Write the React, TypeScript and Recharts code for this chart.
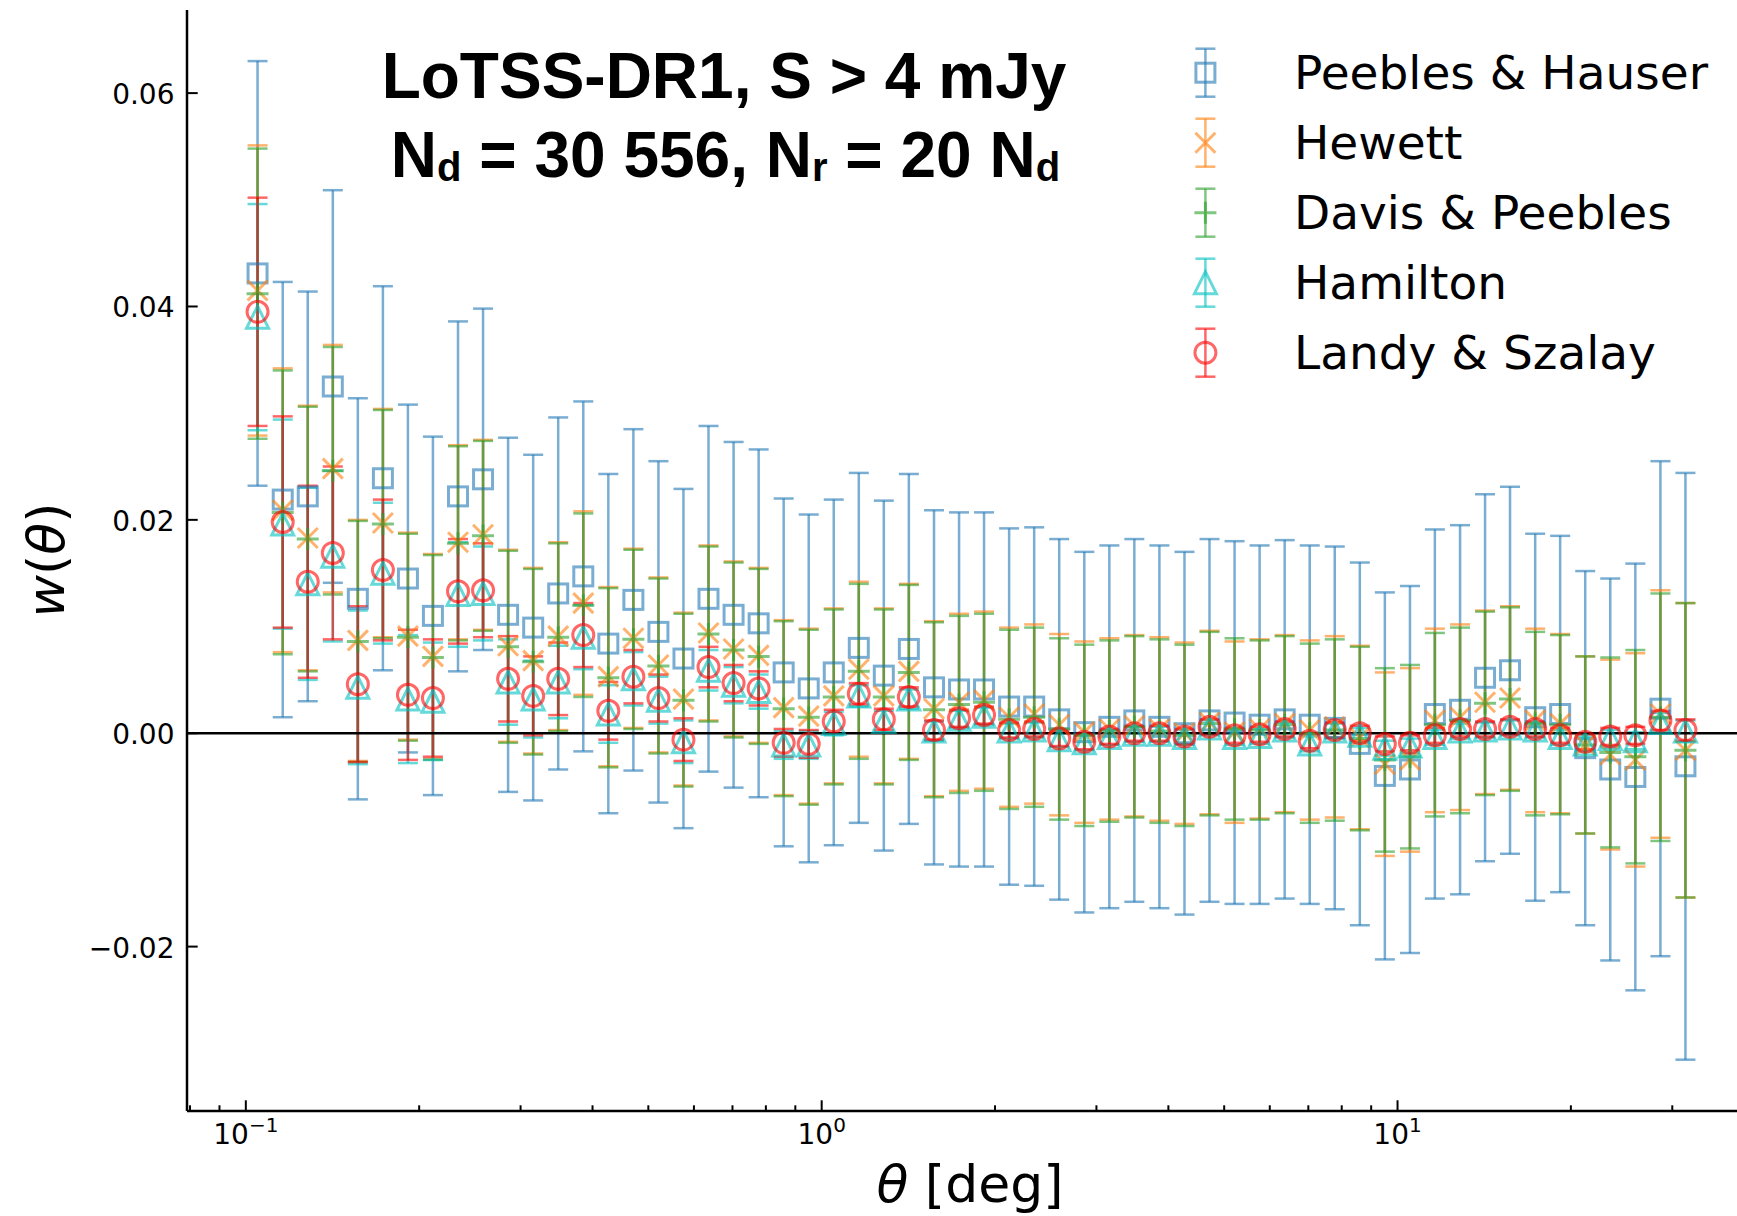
import React from 'react';
import { ComposedChart, Scatter, XAxis, YAxis, ErrorBar, ReferenceLine, Legend } from 'recharts';

// angular bin centres, deg
const theta = [
  0.1048, 0.1159, 0.1281, 0.1416, 0.1565, 0.1730, 0.1912, 0.2113, 0.2336, 0.2582,
  0.2854, 0.3155, 0.3487, 0.3855, 0.4261, 0.4710, 0.5206, 0.5754, 0.6360, 0.7031,
  0.7772, 0.8590, 0.9495, 1.0495, 1.160, 1.282, 1.417, 1.567, 1.732, 1.914,
  2.116, 2.339, 2.585, 2.858, 3.159, 3.491, 3.859, 4.266, 4.715, 5.212,
  5.761, 6.368, 7.039, 7.780, 8.600, 9.506, 10.51, 11.61, 12.84, 14.19,
  15.68, 17.34, 19.16, 21.18, 23.41, 25.88, 28.61, 31.62,
];

// Peebles & Hauser
const phValue = [
  0.0431, 0.0219, 0.0222, 0.0325, 0.0126, 0.0239, 0.0145, 0.0110, 0.0222, 0.0238,
  0.0111, 0.0099, 0.0131, 0.0147, 0.0084, 0.0125, 0.0095, 0.0070, 0.0126, 0.0111,
  0.0103, 0.0057, 0.0042, 0.0057, 0.0080, 0.0054, 0.0079, 0.0043, 0.0041, 0.0041,
  0.0025, 0.0025, 0.0013, 0.0001, 0.0006, 0.0012, 0.0006, 0.0000, 0.0012, 0.0010,
  0.0008, 0.0013, 0.0008, 0.0005, -0.0010, -0.0040, -0.0034, 0.0018, 0.0022, 0.0052,
  0.0059, 0.0015, 0.0018, -0.0014, -0.0034, -0.0041, 0.0023, -0.0031,
];
const phError = [
  0.0199, 0.0204, 0.0192, 0.0184, 0.0188, 0.0180, 0.0163, 0.0168, 0.0164, 0.0160,
  0.0166, 0.0162, 0.0165, 0.0164, 0.0159, 0.0160, 0.0160, 0.0159, 0.0162, 0.0162,
  0.0163, 0.0163, 0.0163, 0.0162, 0.0164, 0.0164, 0.0164, 0.0166, 0.0166, 0.0166,
  0.0167, 0.0168, 0.0169, 0.0169, 0.0170, 0.0170, 0.0170, 0.0170, 0.0170, 0.0170,
  0.0168, 0.0168, 0.0168, 0.0170, 0.0170, 0.0172, 0.0172, 0.0173, 0.0173, 0.0172,
  0.0172, 0.0172, 0.0167, 0.0166, 0.0179, 0.0200, 0.0232, 0.0275,
];

// Hewett
const hwValue = [
  0.0415, 0.0209, 0.0183, 0.0248, 0.0087, 0.0197, 0.0091, 0.0072, 0.0179, 0.0186,
  0.0082, 0.0068, 0.0091, 0.0122, 0.0053, 0.0089, 0.0064, 0.0032, 0.0094, 0.0079,
  0.0073, 0.0024, 0.0016, 0.0035, 0.0060, 0.0035, 0.0058, 0.0023, 0.0029, 0.0031,
  0.0015, 0.0018, 0.0008, 0.0001, 0.0004, 0.0007, 0.0004, 0.0000, 0.0010, 0.0001,
  0.0004, 0.0009, 0.0003, 0.0006, -0.0004, -0.0029, -0.0025, 0.0012, 0.0015, 0.0029,
  0.0033, 0.0012, 0.0009, -0.0011, -0.0020, -0.0025, 0.0018, -0.0016,
];
const hwError = [
  0.0136, 0.0133, 0.0124, 0.0116, 0.0113, 0.0107, 0.0097, 0.0096, 0.0091, 0.0089,
  0.0090, 0.0087, 0.0088, 0.0086, 0.0084, 0.0084, 0.0082, 0.0081, 0.0082, 0.0082,
  0.0082, 0.0082, 0.0082, 0.0082, 0.0082, 0.0082, 0.0082, 0.0082, 0.0083, 0.0083,
  0.0084, 0.0084, 0.0085, 0.0085, 0.0085, 0.0085, 0.0086, 0.0085, 0.0086, 0.0085,
  0.0084, 0.0083, 0.0084, 0.0085, 0.0086, 0.0086, 0.0086, 0.0086, 0.0087, 0.0086,
  0.0086, 0.0086, 0.0084, 0.0083, 0.0089, 0.0100, 0.0116, 0.0138,
];

// Davis & Peebles
const dpValue = [
  0.0412, 0.0207, 0.0182, 0.0246, 0.0086, 0.0196, 0.0090, 0.0071, 0.0178, 0.0185,
  0.0081, 0.0067, 0.0090, 0.0120, 0.0052, 0.0088, 0.0063, 0.0031, 0.0093, 0.0078,
  0.0072, 0.0023, 0.0015, 0.0034, 0.0058, 0.0034, 0.0057, 0.0022, 0.0027, 0.0029,
  0.0013, 0.0015, 0.0004, -0.0002, 0.0002, 0.0006, 0.0002, -0.0002, 0.0009, 0.0004,
  0.0003, 0.0008, 0.0000, 0.0003, -0.0005, -0.0025, -0.0022, 0.0008, 0.0012, 0.0028,
  0.0032, 0.0009, 0.0008, -0.0011, -0.0018, -0.0022, 0.0015, -0.0016,
];
const dpError = [
  0.0136, 0.0133, 0.0124, 0.0116, 0.0113, 0.0107, 0.0097, 0.0096, 0.0091, 0.0089,
  0.0090, 0.0087, 0.0088, 0.0086, 0.0084, 0.0084, 0.0082, 0.0081, 0.0082, 0.0082,
  0.0082, 0.0082, 0.0082, 0.0082, 0.0082, 0.0082, 0.0082, 0.0082, 0.0083, 0.0083,
  0.0084, 0.0084, 0.0085, 0.0085, 0.0085, 0.0085, 0.0086, 0.0085, 0.0086, 0.0085,
  0.0084, 0.0083, 0.0084, 0.0085, 0.0086, 0.0086, 0.0086, 0.0086, 0.0087, 0.0086,
  0.0086, 0.0086, 0.0084, 0.0083, 0.0089, 0.0100, 0.0116, 0.0138,
];

// Hamilton
const hmValue = [
  0.0390, 0.0196, 0.0140, 0.0166, 0.0043, 0.0150, 0.0032, 0.0030, 0.0130, 0.0131,
  0.0048, 0.0032, 0.0048, 0.0090, 0.0018, 0.0051, 0.0031, -0.0008, 0.0059, 0.0045,
  0.0039, -0.0011, -0.0011, 0.0009, 0.0035, 0.0011, 0.0032, 0.0002, 0.0013, 0.0016,
  0.0002, 0.0003, -0.0006, -0.0009, -0.0004, -0.0001, -0.0001, -0.0004, 0.0005, -0.0004,
  -0.0003, 0.0003, -0.0010, 0.0002, -0.0002, -0.0014, -0.0012, -0.0004, 0.0002, 0.0003,
  0.0005, 0.0003, -0.0004, -0.0010, -0.0005, -0.0007, 0.0010, 0.0002,
];
const hmError = [
  0.0106, 0.0098, 0.0090, 0.0080, 0.0072, 0.0066, 0.0060, 0.0055, 0.0049, 0.0044,
  0.0040, 0.0036, 0.0034, 0.0030, 0.0027, 0.0025, 0.0022, 0.0020, 0.0019, 0.0017,
  0.0016, 0.0013, 0.0013, 0.0011, 0.0010, 0.0010, 0.0009, 0.0009, 0.0008, 0.0008,
  0.0007, 0.0007, 0.0007, 0.0007, 0.0007, 0.0007, 0.0007, 0.0007, 0.0007, 0.0007,
  0.0007, 0.0007, 0.0007, 0.0007, 0.0007, 0.0007, 0.0007, 0.0007, 0.0007, 0.0007,
  0.0007, 0.0007, 0.0007, 0.0007, 0.0008, 0.0008, 0.0009, 0.0010,
];

// Landy & Szalay
const lsValue = [
  0.0395, 0.0198, 0.0142, 0.0169, 0.0046, 0.0153, 0.0036, 0.0033, 0.0133, 0.0134,
  0.0051, 0.0035, 0.0051, 0.0092, 0.0021, 0.0053, 0.0033, -0.0006, 0.0062, 0.0047,
  0.0042, -0.0009, -0.0010, 0.0011, 0.0037, 0.0013, 0.0034, 0.0003, 0.0014, 0.0017,
  0.0003, 0.0004, -0.0005, -0.0008, -0.0003, 0.0000, 0.0000, -0.0003, 0.0006, -0.0002,
  -0.0001, 0.0004, -0.0007, 0.0003, 0.0000, -0.0010, -0.0009, -0.0002, 0.0004, 0.0004,
  0.0006, 0.0004, -0.0002, -0.0008, -0.0003, -0.0002, 0.0012, 0.0003,
];
const lsError = [
  0.0107, 0.0099, 0.0090, 0.0081, 0.0073, 0.0066, 0.0061, 0.0055, 0.0049, 0.0044,
  0.0040, 0.0037, 0.0034, 0.0030, 0.0027, 0.0025, 0.0022, 0.0020, 0.0019, 0.0017,
  0.0016, 0.0013, 0.0013, 0.0011, 0.0010, 0.0010, 0.0009, 0.0009, 0.0008, 0.0008,
  0.0007, 0.0007, 0.0007, 0.0007, 0.0007, 0.0007, 0.0007, 0.0007, 0.0007, 0.0007,
  0.0007, 0.0007, 0.0007, 0.0007, 0.0007, 0.0007, 0.0007, 0.0007, 0.0007, 0.0007,
  0.0007, 0.0007, 0.0007, 0.0007, 0.0008, 0.0008, 0.0009, 0.0010,
];

const yTicks = [-0.02, 0, 0.02, 0.04, 0.06];
const yTickLabels = ['\u22120.02', '0.00', '0.02', '0.04', '0.06'];
const xMajorTicks = [0.1, 1, 10];
const xMajorExponents = ['\u22121', '0', '1'];
const xMinorTicks = [0.08, 0.09, 0.2, 0.3, 0.4, 0.5, 0.6, 0.7, 0.8, 0.9, 2, 3, 4, 5, 6, 7, 8, 9, 20, 30];

const X_DOMAIN = [0.07904, 38.86];
const Y_DOMAIN = [-0.03541, 0.06779];

const BLUE = 'rgba(31,119,180,0.6)';
const ORANGE = 'rgba(255,127,14,0.6)';
const GREEN = 'rgba(44,160,44,0.6)';
const CYAN = 'rgba(0,191,191,0.6)';
const RED = 'rgba(255,0,0,0.6)';

const FONT = '"DejaVu Sans", sans-serif';

const toPoints = (values: number[], errors: number[]) =>
  theta.map((t, i) => ({ theta: t, w: values[i], err: errors[i] }));

const squareMark = (p: any) => (
  <rect x={p.cx - 9.5} y={p.cy - 9.5} width={19} height={19} fill="none" stroke={BLUE} strokeWidth={3} />
);
const crossMark = (p: any) => (
  <path
    d={`M${p.cx - 10},${p.cy - 10}L${p.cx + 10},${p.cy + 10}M${p.cx - 10},${p.cy + 10}L${p.cx + 10},${p.cy - 10}`}
    fill="none" stroke={ORANGE} strokeWidth={3}
  />
);
const plusMark = (p: any) => (
  <path
    d={`M${p.cx - 11},${p.cy}L${p.cx + 11},${p.cy}M${p.cx},${p.cy - 11}L${p.cx},${p.cy + 11}`}
    fill="none" stroke={GREEN} strokeWidth={3}
  />
);
const triangleMark = (p: any) => (
  <path
    d={`M${p.cx},${p.cy - 11}L${p.cx + 11},${p.cy + 11}L${p.cx - 11},${p.cy + 11}Z`}
    fill="none" stroke={CYAN} strokeWidth={3}
  />
);
const circleMark = (p: any) => (
  <circle cx={p.cx} cy={p.cy} r={10.5} fill="none" stroke={RED} strokeWidth={3} />
);

const series = [
  { name: 'Peebles & Hauser', data: toPoints(phValue, phError), color: BLUE, mark: squareMark },
  { name: 'Hewett', data: toPoints(hwValue, hwError), color: ORANGE, mark: crossMark },
  { name: 'Davis & Peebles', data: toPoints(dpValue, dpError), color: GREEN, mark: plusMark },
  { name: 'Hamilton', data: toPoints(hmValue, hmError), color: CYAN, mark: triangleMark },
  { name: 'Landy & Szalay', data: toPoints(lsValue, lsError), color: RED, mark: circleMark },
];

const XTick = (props: any) => {
  const { x, y, payload } = props;
  const k = xMajorTicks.indexOf(payload.value);
  const major = k >= 0;
  return (
    <g>
      <line x1={x} x2={x} y1={y} y2={y - (major ? 10.7 : 5.7)} stroke="#000" strokeWidth={2} />
      {major && (
        <text x={x} y={y + 33} textAnchor="middle" fontFamily={FONT} fontSize={28} fill="#000">
          <tspan>10</tspan>
          <tspan dy={-12} fontSize={20}>{xMajorExponents[k]}</tspan>
        </text>
      )}
    </g>
  );
};

const YTick = (props: any) => {
  const { x, y, payload } = props;
  const k = yTicks.indexOf(payload.value);
  return (
    <g>
      <line x1={x} x2={x + 10.7} y1={y} y2={y} stroke="#000" strokeWidth={2} />
      <text x={x - 12.5} y={y + 11} textAnchor="end" fontFamily={FONT} fontSize={28} fill="#000">
        {yTickLabels[k]}
      </text>
    </g>
  );
};

const LegendBox = () => (
  <svg width={572} height={400} style={{ display: 'block' }}>
    {series.map((s, i) => {
      const cy = 72.7 + i * 70;
      const cx = 40.4;
      return (
        <g key={s.name}>
          <line x1={cx} x2={cx} y1={cy - 24} y2={cy + 24} stroke={s.color} strokeWidth={2.5} />
          <line x1={cx - 10} x2={cx + 10} y1={cy - 24} y2={cy - 24} stroke={s.color} strokeWidth={2.5} />
          <line x1={cx - 10} x2={cx + 10} y1={cy + 24} y2={cy + 24} stroke={s.color} strokeWidth={2.5} />
          {s.mark({ cx, cy })}
          <text x={129} y={cy + 16.5} fontFamily={FONT} fontSize={47} fill="#000">{s.name}</text>
        </g>
      );
    })}
  </svg>
);

export default function App() {
  return (
    <div style={{ position: 'absolute', left: 0, top: 0, width: 1737, height: 1216, overflow: 'hidden', background: '#fff' }}>
      <ComposedChart width={1737} height={1216} margin={{ top: 10, right: 0, bottom: 0, left: 0 }}>
        <XAxis
          xAxisId="top"
          orientation="top"
          type="number"
          scale="log"
          domain={X_DOMAIN}
          allowDataOverflow
          height={0}
          tick={false}
          tickLine={false}
          axisLine={{ stroke: '#000', strokeWidth: 2.5 }}
        />
        <XAxis
          dataKey="theta"
          type="number"
          scale="log"
          domain={X_DOMAIN}
          allowDataOverflow
          ticks={[...xMinorTicks, ...xMajorTicks].sort((a, b) => a - b)}
          interval={0}
          tick={XTick}
          tickLine={false}
          tickSize={0}
          tickMargin={0}
          height={105}
          axisLine={{ stroke: '#000', strokeWidth: 2.5 }}
        />
        <YAxis
          dataKey="w"
          type="number"
          domain={Y_DOMAIN}
          allowDataOverflow
          ticks={yTicks}
          interval={0}
          tick={YTick}
          tickLine={false}
          tickSize={0}
          tickMargin={0}
          width={187}
          axisLine={{ stroke: '#000', strokeWidth: 2.5 }}
        />
        {series.map((s) => (
          <Scatter key={s.name} name={s.name} data={s.data} shape={s.mark} isAnimationActive={false}>
            <ErrorBar dataKey="err" direction="y" width={10} stroke={s.color} strokeWidth={2.5} isAnimationActive={false} />
          </Scatter>
        ))}
        <ReferenceLine y={0} stroke="#000" strokeWidth={2.4} />
        <Legend
          layout="vertical"
          align="center"
          verticalAlign="middle"
          content={() => <LegendBox />}
          wrapperStyle={{ left: 1165, top: 0, width: 572, height: 400 }}
        />
      </ComposedChart>
      <svg width={1737} height={1216} style={{ position: 'absolute', left: 0, top: 0, pointerEvents: 'none' }}>
        <g fontFamily='"Liberation Sans", Arial, sans-serif' fontWeight="bold" fontSize={64} fill="#000" textAnchor="middle">
          <text x={724} y={98.3}>LoTSS-DR1, S &gt; 4 mJy</text>
          <text x={725.5} y={176.7}>
            <tspan>N</tspan>
            <tspan fontSize={40} dy={4}>d</tspan>
            <tspan dy={-4}> = 30 556, N</tspan>
            <tspan fontSize={40} dy={4}>r</tspan>
            <tspan dy={-4}> = 20 N</tspan>
            <tspan fontSize={40} dy={4}>d</tspan>
          </text>
        </g>
        <text x={970} y={1202} textAnchor="middle" fontFamily={FONT} fontSize={52} fill="#000">
          <tspan fontStyle="italic">θ</tspan> [deg]
        </text>
        <text
          transform="translate(64,560) rotate(-90)"
          textAnchor="middle"
          fontFamily={FONT}
          fontSize={52}
          fill="#000"
        >
          <tspan fontStyle="italic">w</tspan>(<tspan fontStyle="italic">θ</tspan>)
        </text>
      </svg>
    </div>
  );
}
